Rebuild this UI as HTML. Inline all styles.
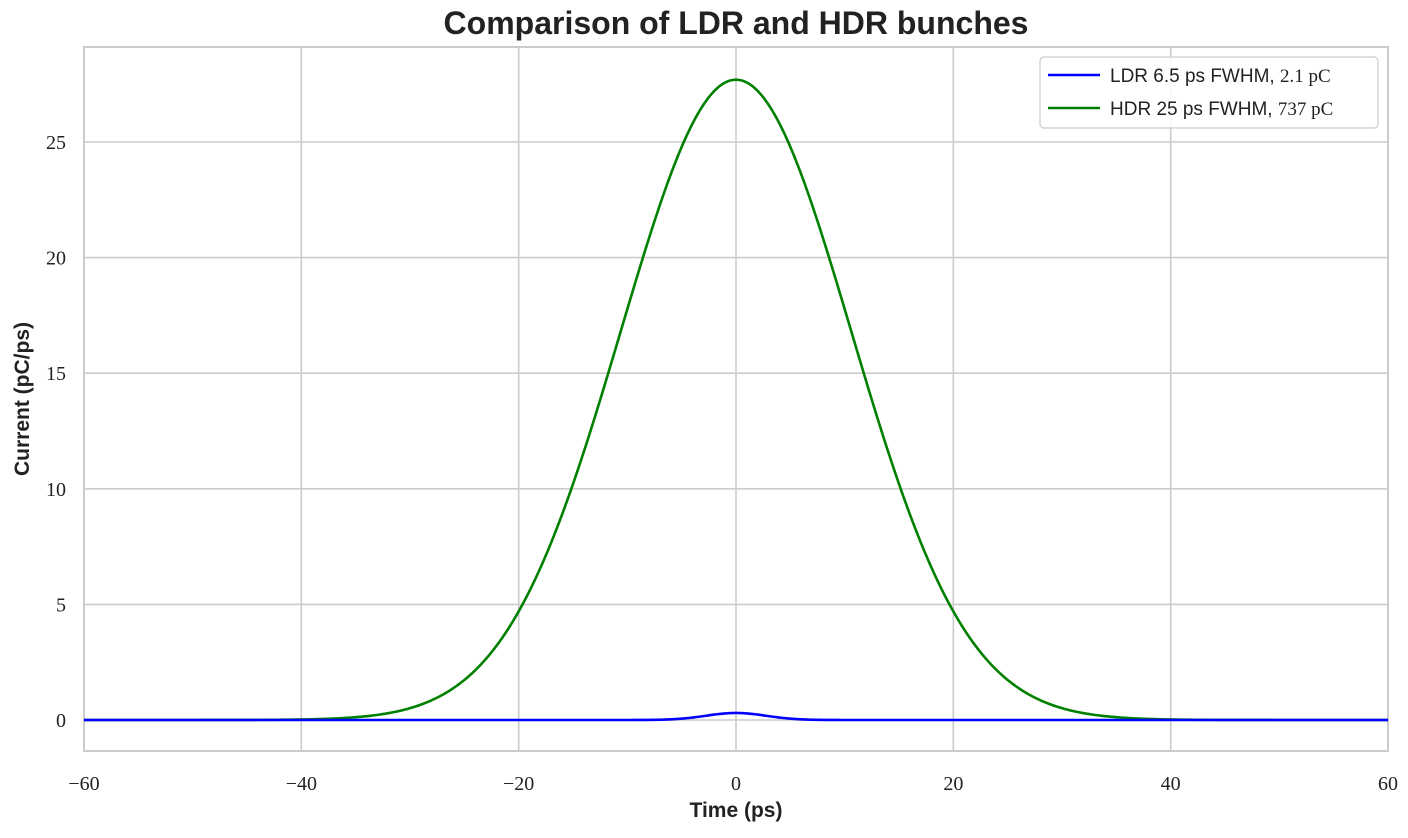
<!DOCTYPE html>
<html><head><meta charset="utf-8"><style>
body{margin:0;background:#fff;}
svg text{font-family:"Liberation Serif",serif;}
</style></head><body>
<svg id="s" width="1408" height="833" xmlns="http://www.w3.org/2000/svg">
<rect width="1408" height="833" fill="#fff"/>
<g id="grid" stroke="#cccccc" stroke-width="1.6"></g>
<rect x="84" y="47" width="1304" height="704" fill="none" stroke="#cccccc" stroke-width="2"/>
<g id="ticks" font-size="20" fill="#222"></g>
<path id="hdr" fill="none" stroke="#008000" stroke-width="2.6"/>
<path id="ldr" fill="none" stroke="#0000ff" stroke-width="2.6"/>
<text x="736" y="34" text-anchor="middle" style="font-family:'Liberation Sans',sans-serif" font-weight="bold" font-size="32" fill="#222">Comparison of LDR and HDR bunches</text>
<text x="736" y="817" text-anchor="middle" style="font-family:'Liberation Sans',sans-serif" font-weight="bold" font-size="21" fill="#222">Time (ps)</text>
<text transform="translate(29,399) rotate(-90)" text-anchor="middle" style="font-family:'Liberation Sans',sans-serif" font-weight="bold" font-size="21" fill="#222">Current (pC/ps)</text>
<rect x="1040" y="57" width="338" height="71" rx="4" fill="#fff" fill-opacity="0.85" stroke="#cccccc" stroke-width="1.2"/>
<line x1="1048" y1="75" x2="1100" y2="75" stroke="#0000ff" stroke-width="2.6"/>
<line x1="1048" y1="108" x2="1100" y2="108" stroke="#008000" stroke-width="2.6"/>
<text x="1110" y="82" font-size="19" fill="#222"><tspan style="font-family:'Liberation Sans',sans-serif">LDR 6.5 ps FWHM, </tspan>2.1 pC</text>
<text x="1110" y="115" font-size="19" fill="#222"><tspan style="font-family:'Liberation Sans',sans-serif">HDR 25 ps FWHM, </tspan>737 pC</text>
</svg>
<script>
const X=t=>736+t*10.8667, Y=v=>720-v*23.12;
const g=document.getElementById('grid'),tk=document.getElementById('ticks');
const ns='http://www.w3.org/2000/svg';
function el(p,n,a,txt){const e=document.createElementNS(ns,n);for(const k in a)e.setAttribute(k,a[k]);if(txt!==undefined)e.textContent=txt;p.appendChild(e);}
for(let t=-40;t<=40;t+=20) el(g,'line',{x1:X(t),x2:X(t),y1:47,y2:751});
for(let v=0;v<=25;v+=5) el(g,'line',{x1:84,x2:1388,y1:Y(v),y2:Y(v)});
for(let t=-60;t<=60;t+=20) el(tk,'text',{x:X(t),y:790,'text-anchor':'middle'},(t<0?'\u2212':'')+Math.abs(t));
for(let v=0;v<=25;v+=5) el(tk,'text',{x:66,y:Y(v)+7,'text-anchor':'end'},v);
function path(q,fw){const s=fw/2.35482,a=q/(s*Math.sqrt(2*Math.PI));let d='';for(let t=-60;t<=60.001;t+=0.25){const v=a*Math.exp(-t*t/(2*s*s));d+=(d?'L':'M')+X(t).toFixed(2)+' '+Y(v).toFixed(2);}return d;}
document.getElementById('hdr').setAttribute('d',path(737,25));
document.getElementById('ldr').setAttribute('d',path(2.1,6.5));
</script>
</body></html>
